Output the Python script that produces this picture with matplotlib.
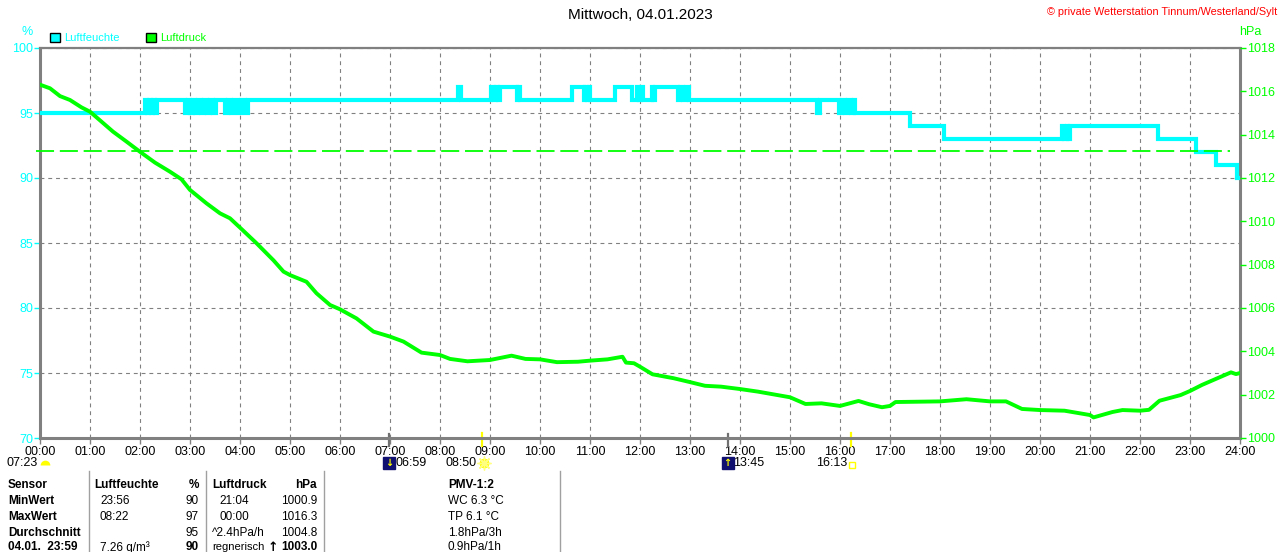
import matplotlib
matplotlib.use("Agg")
import matplotlib.pyplot as plt
import matplotlib.patches as mpatches
import matplotlib.transforms as mtransforms

plt.rcParams["font.family"] = ["Liberation Sans", "DejaVu Sans"]

CYAN = "#00ffff"
GREEN = "#00ff00"
GRID = "#808080"

# Luftfeuchte (%): change points, step function (hours, value)
hum_time = [0.00, 2.10, 2.14, 2.18, 2.22, 2.26, 2.30, 2.34, 2.90, 2.95, 3.00, 3.05,
            3.10, 3.16, 3.22, 3.28, 3.34, 3.40, 3.46, 3.52, 3.70, 3.76, 3.82, 3.88,
            3.96, 4.02, 4.10, 4.16, 8.35, 8.41, 9.03, 9.07, 9.11, 9.15, 9.19, 9.53,
            9.56, 9.60, 10.63, 10.87, 10.90, 10.94, 10.97, 11.00, 11.49, 11.83, 11.93,
            11.97, 12.01, 12.05, 12.23, 12.26, 12.30, 12.76, 12.80, 12.86, 12.92, 12.98,
            15.53, 15.60, 15.97, 16.03, 16.10, 16.16, 16.22, 16.28, 16.30, 17.40, 18.07,
            20.43, 20.48, 20.53, 20.56, 20.60, 22.35, 23.11, 23.51, 23.93, 24.00]
hum_val = [95, 96, 95, 96, 95, 96, 95, 96, 95, 96, 95, 96,
           95, 96, 95, 96, 95, 96, 95, 96, 95, 96, 95, 96,
           95, 96, 95, 96, 97, 96, 97, 96, 97, 96, 97, 96,
           97, 96, 97, 96, 97, 96, 97, 96, 97, 96, 97,
           96, 97, 96, 97, 96, 97, 96, 97, 96, 97, 96,
           95, 96, 95, 96, 95, 96, 95, 96, 95, 94, 93,
           94, 93, 94, 93, 94, 93, 92, 91, 90, 90]

# Luftdruck (hPa)
press_time = [0.02, 0.20, 0.40, 0.60, 0.83, 1.00, 1.23, 1.46, 1.73, 2.00, 2.30, 2.60,
              2.83, 3.00, 3.33, 3.60, 3.80, 4.00, 4.33, 4.67, 4.87, 5.00, 5.33, 5.53,
              5.80, 6.00, 6.33, 6.67, 7.00, 7.27, 7.63, 8.00, 8.20, 8.55, 9.00, 9.43,
              9.71, 10.00, 10.34, 10.76, 11.00, 11.35, 11.65, 11.72, 11.88, 12.00, 12.25,
              12.67, 13.00, 13.30, 13.62, 14.00, 14.36, 15.00, 15.31, 15.63, 16.00, 16.37,
              16.58, 16.84, 17.00, 17.11, 18.00, 18.53, 19.00, 19.32, 19.64, 20.00, 20.49,
              21.00, 21.07, 21.45, 21.65, 22.00, 22.18, 22.39, 22.81, 23.00, 23.24, 23.55,
              23.82, 23.92, 24.00]
press_val = [1016.29, 1016.14, 1015.78, 1015.60, 1015.26, 1015.06, 1014.60, 1014.14,
             1013.68, 1013.21, 1012.71, 1012.29, 1011.94, 1011.45, 1010.83, 1010.37,
             1010.14, 1009.71, 1008.99, 1008.20, 1007.68, 1007.52, 1007.21, 1006.68,
             1006.14, 1005.94, 1005.52, 1004.91, 1004.68, 1004.45, 1003.94, 1003.83,
             1003.65, 1003.54, 1003.60, 1003.80, 1003.65, 1003.63, 1003.50, 1003.52,
             1003.57, 1003.63, 1003.75, 1003.48, 1003.45, 1003.29, 1002.94, 1002.76,
             1002.58, 1002.41, 1002.37, 1002.26, 1002.14, 1001.88, 1001.57, 1001.60,
             1001.48, 1001.71, 1001.56, 1001.42, 1001.48, 1001.66, 1001.69, 1001.79,
             1001.69, 1001.69, 1001.34, 1001.29, 1001.26, 1001.06, 1000.95, 1001.20,
             1001.29, 1001.26, 1001.30, 1001.72, 1001.98, 1002.17, 1002.45, 1002.76,
             1003.03, 1002.95, 1003.00]
norm_press = 1013.25

hum_ticks = [70, 75, 80, 85, 90, 95, 100]
press_ticks = [1000, 1002, 1004, 1006, 1008, 1010, 1012, 1014, 1016, 1018]
hour_labels = [f"{h:02d}:00" for h in range(25)]

title = "Mittwoch, 04.01.2023"
copyright = "\u00a9 private Wetterstation Tinnum/Westerland/Sylt"

# Sonne / Mond
day_length = "07:23"
moonset = "06:59"
sunrise = "08:50"
moonrise = "13:45"
sunset = "16:13"

# Tabelle
col_sensor = ["Sensor", "MinWert", "MaxWert", "Durchschnitt", "04.01.  23:59"]
col_hum_info = ["Luftfeuchte", "23:56", "08:22", "", "7.26 g/m\u00b3"]
col_hum_val = ["%", "90", "97", "95", "90"]
col_press_info = ["Luftdruck", "21:04", "00:00", "^2.4hPa/h", "regnerisch"]
col_press_val = ["hPa", "1000.9", "1016.3", "1004.8", "1003.0"]
col_pmv = ["PMV-1:2", "WC 6.3 \u00b0C", "TP 6.1 \u00b0C", "1.8hPa/3h", "0.9hPa/1h"]


def hours(s):
    h, m = s.split(":")
    return int(h) + int(m) / 60


W, H = 1280, 552
fig = plt.figure(figsize=(W / 100, H / 100), dpi=100)


def fx(x):
    return x / W


def fy(y):
    return 1 - y / H


ax = fig.add_axes([fx(40), fy(438), fx(1200), 390 / H])
ax.set_xlim(0, 24)
ax.set_ylim(70, 100)
ax.set_xticks(range(25))
ax.set_xticklabels(hour_labels)
ax.set_yticks(hum_ticks)
ax.tick_params(axis="x", colors=GRID, labelcolor="black", labelsize=9, length=4, width=1, pad=2)
ax.tick_params(axis="y", colors=CYAN, labelcolor=CYAN, labelsize=9, length=4, width=1, pad=1)
for s in ax.spines.values():
    s.set_color(GRID)
    s.set_linewidth(2.2)
ax.spines["top"].set_linewidth(1.6)
ax.grid(True, color=GRID, linestyle=(0, (3.5, 3.5)), linewidth=0.8)
ax.set_axisbelow(True)

ax.plot(hum_time, hum_val, drawstyle="steps-post", color=CYAN, linewidth=3.0,
        solid_joinstyle="miter", zorder=3)

ax2 = ax.twinx()
ax2.set_ylim(1000, 1018)
ax2.set_yticks(press_ticks)
ax2.tick_params(axis="y", colors=GREEN, labelcolor=GREEN, labelsize=9, length=4, width=1, pad=1)
for s in ax2.spines.values():
    s.set_visible(False)
ax2.axhline(norm_press, xmin=-0.003, xmax=0.992, color=GREEN, linewidth=1.3,
            dashes=(10, 3.2), clip_on=False)
ax2.plot(press_time, press_val, color=GREEN, linewidth=2.8, zorder=4)

# units
fig.text(fx(27), fy(32), "%", color=CYAN, fontsize=9, ha="center", va="center")
fig.text(fx(1250), fy(32), "hPa", color=GREEN, fontsize=9, ha="center", va="center")

# title, copyright
fig.text(0.5, fy(15), title, fontsize=11, ha="center", va="center")
fig.text(fx(1277), fy(12), copyright, color="red", fontsize=7.8, ha="right", va="center")

# legend
handles = [mpatches.Patch(facecolor=CYAN, edgecolor="black", label="Luftfeuchte"),
           mpatches.Patch(facecolor=GREEN, edgecolor="black", label="Luftdruck")]
fig.legend(handles=handles, loc="center left", bbox_to_anchor=(fx(44), fy(38)), ncol=2,
           frameon=False, fontsize=8, labelcolor=[CYAN, GREEN], handlelength=0.9,
           handleheight=0.9, handletextpad=0.45, columnspacing=2.3, borderpad=0)

# sun / moon events under the x axis
trans = mtransforms.blended_transform_factory(ax.transData, fig.transFigure)
ty = fy(463)
for t, c in [(sunrise, "yellow"), (sunset, "yellow")]:
    ax.plot([hours(t)] * 2, [fy(433), fy(446)], color=c, linewidth=1.6,
            transform=trans, clip_on=False)
for t in [moonset, moonrise]:
    ax.plot([hours(t)] * 2, [fy(434), fy(446)], color="#707070", linewidth=1.6,
            transform=trans, clip_on=False)

fig.text(fx(38), ty, day_length, fontsize=9, ha="right", va="center")
ax.plot([0.09], [fy(465)], marker="o", markersize=7, color="yellow", fillstyle="top",
        markerfacecoloralt="none", markeredgewidth=0, transform=trans, clip_on=False)

for t, arrow in [(moonset, "\u2193"), (moonrise, "\u2191")]:
    x = hours(t)
    ax.plot([x], [ty], marker="s", markersize=8, color="#101070", transform=trans,
            clip_on=False)
    ax.text(x, ty, arrow, color="yellow", fontsize=7, fontweight="bold", ha="center",
            va="center", transform=trans, family="DejaVu Sans")
    ax.text(x + 0.12, ty, t, fontsize=9, ha="left", va="center", transform=trans)

ax.text(hours(sunrise) - 0.1, ty, sunrise, fontsize=9, ha="right", va="center", transform=trans)
ax.plot([hours(sunrise) + 0.04], [ty], marker="o", markersize=6, color="yellow",
        transform=trans, clip_on=False)
ax.plot([hours(sunrise) + 0.04], [ty], marker=(8, 2, 0), markersize=10, color="#ffff80",
        markeredgewidth=1, transform=trans, clip_on=False)
ax.text(hours(sunset) - 0.08, ty, sunset, fontsize=9, ha="right", va="center", transform=trans)
ax.plot([hours(sunset) + 0.02], [fy(465)], marker="s", markersize=4.5, markerfacecolor="none",
        markeredgecolor="yellow", markeredgewidth=1, transform=trans, clip_on=False)

# table
for x in [89, 206, 324, 560]:
    fig.add_artist(plt.Line2D([fx(x)] * 2, [fy(471), 0], color="#a0a0a0", linewidth=1))
row_y = [485, 501, 517, 533, 547.5]
for i, y in enumerate(row_y):
    head = i == 0
    w = "bold" if head else "normal"
    ind = 0 if head else 6
    fig.text(fx(8), fy(y), col_sensor[i], fontsize=8.5, fontweight="bold", va="center")
    fig.text(fx(94 + ind), fy(y), col_hum_info[i], fontsize=8.5, fontweight=w, va="center")
    fig.text(fx(199), fy(y), col_hum_val[i], fontsize=8.5, ha="right", va="center",
             fontweight="bold" if head or i == 4 else "normal")
    fig.text(fx(212 + (7 if i in (1, 2) else 0)), fy(y), col_press_info[i],
             fontsize=8.5 if i != 4 else 8, fontweight=w, va="center")
    fig.text(fx(317), fy(y), col_press_val[i], fontsize=8.5, ha="right", va="center",
             fontweight="bold" if head or i == 4 else "normal")
    fig.text(fx(448), fy(y), col_pmv[i], fontsize=8.5, fontweight=w, va="center")
fig.text(fx(273), fy(row_y[4]), "\u2191", fontsize=9, fontweight="bold", color="black",
         ha="center", va="center", family="DejaVu Sans")

fig.savefig("out.png", dpi=100, facecolor="white")
